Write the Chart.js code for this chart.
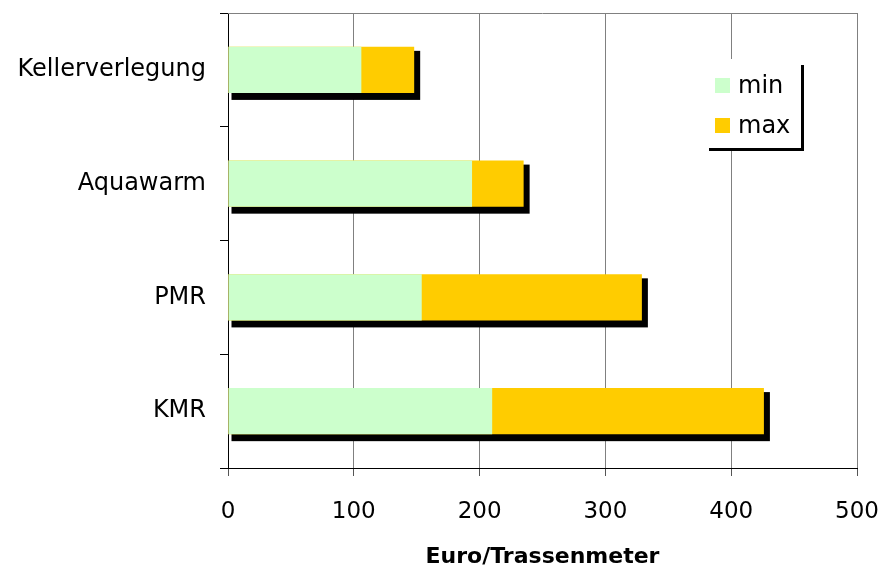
<!DOCTYPE html>
<html><head><meta charset="utf-8">
<script src="https://cdn.jsdelivr.net/npm/chart.js@4.4.0/dist/chart.umd.min.js"></script>
<style>html,body{margin:0;padding:0;background:#fff;}</style>
</head><body>
<canvas id="c" width="879" height="568"></canvas>
<script>
const categories = ['Kellerverlegung', 'Aquawarm', 'PMR', 'KMR'];
const minValues = [106, 194, 154, 210];
const maxValues = [148, 235, 329, 426];
const xTicks = [0, 100, 200, 300, 400, 500];
const seriesLabels = ['min', 'max'];
const axisTitle = 'Euro/Trassenmeter';
const seriesColors = ['#CCFFCC', '#FFCC00'];

const FONT = 'DejaVu Sans';

const shadowPlugin = {
  id: 'shadowAndFrame',
  beforeDatasetsDraw(chart) {
    const ctx = chart.ctx, ca = chart.chartArea;
    ctx.save();
    ctx.strokeStyle = '#808080';
    ctx.lineWidth = 1;
    ctx.beginPath();
    ctx.moveTo(ca.left, Math.round(ca.top) + 0.5);
    ctx.lineTo(ca.right, Math.round(ca.top) + 0.5);
    ctx.stroke();
    ctx.fillStyle = '#000';
    const meta = chart.getDatasetMeta(1);
    meta.data.forEach(el => {
      const p = el.getProps(['x', 'y', 'base', 'height'], true);
      const left = Math.min(p.base, p.x), right = Math.max(p.base, p.x);
      const top = p.y - p.height / 2;
      ctx.fillRect(left + 3, top + 4, right - left + 3, p.height + 3);
    });
    ctx.restore();
  }
};

const legendPlugin = {
  id: 'boxLegend',
  afterDatasetsDraw(chart) {
    const ctx = chart.ctx, ca = chart.chartArea;
    const bx = ca.right - 150, by = ca.top + 46;
    ctx.save();
    ctx.fillStyle = '#fff';
    ctx.fillRect(bx, by, 94, 89);
    ctx.fillStyle = '#000';
    ctx.fillRect(bx + 94, by + 6, 3, 86);
    ctx.fillRect(bx + 2, by + 89, 95, 3);
    ctx.font = '24px "' + FONT + '"';
    ctx.textBaseline = 'alphabetic';
    ctx.textAlign = 'left';
    chart.data.datasets.forEach((ds, i) => {
      const y = by + 19 + i * 40;
      ctx.fillStyle = ds.backgroundColor;
      ctx.fillRect(bx + 8, y, 15, 15);
      ctx.fillStyle = '#000';
      ctx.fillText(ds.label, bx + 31, y + 15);
    });
    ctx.restore();
  }
};

function noPad(s) { s.paddingTop = 0; s.paddingBottom = 0; s.paddingLeft = 0; s.paddingRight = 0; }

new Chart(document.getElementById('c'), {
  type: 'bar',
  data: {
    labels: categories,
    datasets: [
      { label: seriesLabels[0], data: minValues, backgroundColor: seriesColors[0], borderWidth: 0 },
      { label: seriesLabels[1], data: maxValues, backgroundColor: seriesColors[1], borderWidth: 0 }
    ]
  },
  options: {
    indexAxis: 'y',
    responsive: false,
    animation: false,
    devicePixelRatio: 1,
    categoryPercentage: 1,
    barPercentage: 0.405,
    layout: { padding: { top: 13, right: 22, bottom: 0, left: 0 } },
    plugins: { legend: { display: false }, tooltip: { enabled: false } },
    scales: {
      y: {
        stacked: true,
        grid: { display: true, drawOnChartArea: false, drawTicks: true, tickLength: 8, color: '#000', offset: true },
        border: { display: true, color: '#000', width: 1 },
        ticks: { color: '#000', font: { family: FONT, size: 24 }, padding: 14 },
        afterFit(s) { s.width = 228; noPad(s); }
      },
      x: {
        stacked: false,
        min: 0, max: 500,
        afterBuildTicks(s) { s.ticks = xTicks.map(v => ({ value: v })); },
        grid: { color: '#808080', tickColor: '#555', tickLength: 8 },
        border: { display: true, color: '#000', width: 1 },
        ticks: { color: '#000', font: { family: FONT, size: 23 }, padding: 22 },
        title: { display: true, text: axisTitle, color: '#000',
                 font: { family: FONT, size: 22, weight: 'bold', lineHeight: 1 },
                 padding: { top: 0, bottom: 0 } },
        afterFit(s) { s.height = 100; noPad(s); }
      }
    }
  },
  plugins: [shadowPlugin, legendPlugin]
});
</script>
</body></html>
